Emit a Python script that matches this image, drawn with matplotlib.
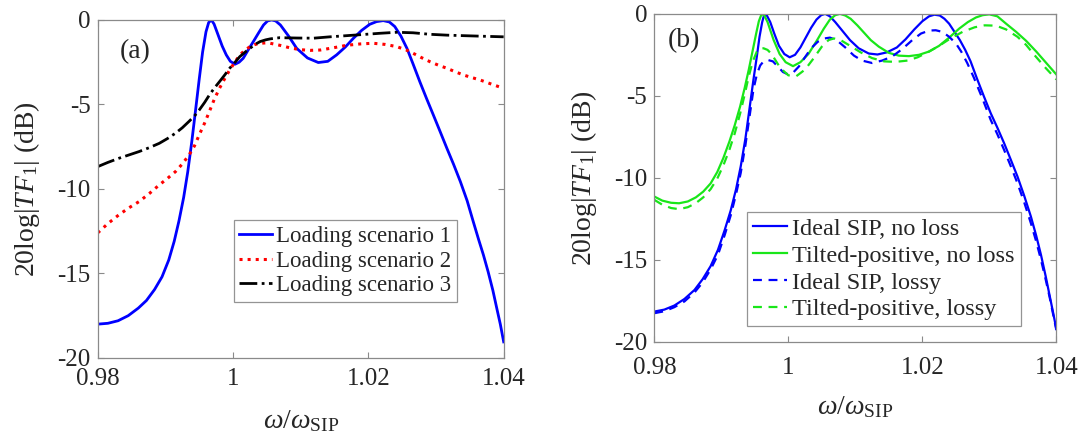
import numpy as np
import matplotlib.pyplot as plt

plt.rcParams['font.family'] = ['Liberation Serif', 'DejaVu Serif']
plt.rcParams['mathtext.fontset'] = 'custom'
plt.rcParams['mathtext.rm'] = 'Liberation Serif'
plt.rcParams['mathtext.it'] = 'Liberation Serif:italic'
plt.rcParams['axes.unicode_minus'] = False

# (a) loading scenarios
x_s1 = [0.9800, 0.9815, 0.9830, 0.9845, 0.9860, 0.9872, 0.9884, 0.9895, 0.9905, 0.9913,
        0.9920, 0.9927, 0.9933, 0.9939, 0.9945, 0.9950, 0.9955, 0.9960, 0.9964, 0.9968,
        0.9972, 0.9978, 0.9984, 0.9990, 0.9996, 1.0003, 1.0009, 1.0015, 1.0022, 1.0030,
        1.0038, 1.0045, 1.0051, 1.0057, 1.0063, 1.0070, 1.0082, 1.0094, 1.0110, 1.0126,
        1.0140, 1.0153, 1.0166, 1.0178, 1.0190, 1.0202, 1.0212, 1.0222, 1.0231, 1.0239,
        1.0248, 1.0257, 1.0266, 1.0276, 1.0286, 1.0296, 1.0306, 1.0316, 1.0326, 1.0336,
        1.0346, 1.0355, 1.0363, 1.0370, 1.0377, 1.0384, 1.0390, 1.0395, 1.0400]
y_s1 = [-18.0, -17.95, -17.8, -17.5, -17.05, -16.6, -15.95, -15.2, -14.2, -13.1,
        -11.9, -10.5, -9.0, -7.2, -5.2, -3.5, -1.9, -0.7, -0.15, 0.0,
        -0.25, -0.9, -1.55, -2.07, -2.45, -2.62, -2.5, -2.27, -1.8, -1.28,
        -0.75, -0.3, -0.06, 0.0, -0.06, -0.3, -0.95, -1.68, -2.25, -2.52,
        -2.45, -2.07, -1.6, -1.08, -0.62, -0.26, -0.1, -0.04, -0.12, -0.39,
        -0.95, -1.68, -2.6, -3.65, -4.65, -5.62, -6.6, -7.59, -8.55, -9.57,
        -10.7, -11.93, -13.0, -13.9, -14.9, -16.0, -17.1, -18.0, -19.05]

x_s2 = [0.9800, 0.9815, 0.9831, 0.9846, 0.9861, 0.9876, 0.9891, 0.9903, 0.9915, 0.9925,
        0.9935, 0.9943, 0.9950, 0.9958, 0.9965, 0.9972, 0.9980, 0.9988, 0.9995, 1.0003,
        1.0010, 1.0018, 1.0025, 1.0032, 1.0040, 1.0048, 1.0055, 1.0069, 1.0084, 1.0099,
        1.0114, 1.0129, 1.0148, 1.0168, 1.0188, 1.0207, 1.0225, 1.0242, 1.0256, 1.0266,
        1.0278, 1.0291, 1.0303, 1.0316, 1.0328, 1.0340, 1.0352, 1.0365, 1.0382, 1.0400]
y_s2 = [-12.6, -12.05, -11.54, -11.12, -10.75, -10.28, -9.76, -9.38, -8.97, -8.52,
        -7.99, -7.45, -6.8, -6.1, -5.42, -4.72, -4.04, -3.45, -2.96, -2.48,
        -2.07, -1.78, -1.58, -1.46, -1.38, -1.36, -1.38, -1.5, -1.65, -1.76,
        -1.8, -1.78, -1.65, -1.5, -1.42, -1.38, -1.45, -1.58, -1.78, -1.97,
        -2.22, -2.47, -2.67, -2.86, -3.06, -3.25, -3.4, -3.55, -3.8, -4.05]

x_s3 = [0.9800, 0.9815, 0.9831, 0.9846, 0.9861, 0.9876, 0.9891, 0.9903, 0.9915, 0.9925,
        0.9935, 0.9943, 0.9950, 0.9958, 0.9965, 0.9972, 0.9980, 0.9988, 0.9995, 1.0003,
        1.0010, 1.0018, 1.0025, 1.0032, 1.0040, 1.0048, 1.0055, 1.0069, 1.0094, 1.0119,
        1.0143, 1.0168, 1.0193, 1.0217, 1.0242, 1.0266, 1.0291, 1.0316, 1.0340, 1.0365,
        1.0400]
y_s3 = [-8.68, -8.43, -8.19, -7.99, -7.79, -7.56, -7.3, -7.02, -6.7, -6.38,
        -6.0, -5.68, -5.33, -4.88, -4.44, -4.05, -3.65, -3.24, -2.86, -2.5,
        -2.17, -1.9, -1.68, -1.46, -1.28, -1.18, -1.12, -1.05, -1.07, -1.08,
        -1.0, -0.93, -0.86, -0.79, -0.73, -0.76, -0.85, -0.9, -0.93, -0.96,
        -1.0]

# (b) ideal SIP vs tilted-positive, with and without loss
x_ideal = [0.9800, 0.9815, 0.9830, 0.9845, 0.9860, 0.9872, 0.9884, 0.9895, 0.9905, 0.9914,
           0.9922, 0.9929, 0.9936, 0.9942, 0.9948, 0.9953, 0.9957, 0.9961, 0.9964, 0.9968,
           0.9973, 0.9979, 0.9986, 0.9994, 1.0002, 1.0010, 1.0018, 1.0026, 1.0034, 1.0042,
           1.0049, 1.0055, 1.0062, 1.0070, 1.0080, 1.0092, 1.0105, 1.0120, 1.0133, 1.0147,
           1.0162, 1.0175, 1.0188, 1.0200, 1.0210, 1.0218, 1.0226, 1.0233, 1.0240, 1.0248,
           1.0256, 1.0264, 1.0272, 1.0282, 1.0292, 1.0302, 1.0312, 1.0322, 1.0332, 1.0342,
           1.0352, 1.0362, 1.0370, 1.0377, 1.0384, 1.0390, 1.0395, 1.0400]
y_ideal = [-18.17, -18.05, -17.8, -17.4, -16.85, -16.2, -15.4, -14.4, -13.2, -12.0,
           -10.7, -9.3, -7.6, -5.8, -4.0, -2.6, -1.4, -0.5, -0.05, -0.1,
           -0.5, -1.2, -1.95, -2.45, -2.65, -2.5, -2.05, -1.45, -0.85, -0.35,
           -0.08, 0.0, -0.15, -0.5, -1.0, -1.6, -2.1, -2.42, -2.48, -2.35,
           -2.05, -1.55, -0.95, -0.45, -0.15, -0.05, -0.1, -0.3, -0.6, -1.1,
           -1.6, -2.2, -2.9, -4.0, -5.05, -6.06, -6.95, -7.89, -8.9, -9.93,
           -11.1, -12.37, -13.55, -14.7, -16.0, -17.2, -18.2, -19.23]

x_tilt = [0.9800, 0.9812, 0.9825, 0.9837, 0.9850, 0.9862, 0.9873, 0.9884, 0.9894, 0.9903,
          0.9912, 0.9920, 0.9928, 0.9935, 0.9941, 0.9947, 0.9952, 0.9956, 0.9960, 0.9964,
          0.9969, 0.9978, 0.9987, 0.9996, 1.0007, 1.0018, 1.0030, 1.0043, 1.0053, 1.0062,
          1.0070, 1.0077, 1.0085, 1.0093, 1.0103, 1.0113, 1.0123, 1.0135, 1.0150, 1.0165,
          1.0180, 1.0195, 1.0210, 1.0225, 1.0240, 1.0255, 1.0268, 1.0280, 1.0290, 1.0300,
          1.0312, 1.0325, 1.0340, 1.0355, 1.0370, 1.0385, 1.0400]
y_tilt = [-11.15, -11.4, -11.53, -11.56, -11.45, -11.2, -10.85, -10.35, -9.65, -8.8,
          -7.8, -6.8, -5.66, -4.5, -3.4, -2.2, -1.2, -0.45, -0.02, -0.08,
          -0.5, -1.59, -2.45, -2.95, -3.19, -2.95, -2.45, -1.6, -0.9, -0.35,
          -0.08, 0.0, -0.1, -0.3, -0.7, -1.15, -1.6, -2.0, -2.38, -2.55,
          -2.58, -2.5, -2.3, -1.95, -1.45, -0.9, -0.5, -0.22, -0.08, -0.03,
          -0.15, -0.6, -1.1, -1.65, -2.3, -3.0, -3.7]

x_ideal_loss = [0.9800, 0.9815, 0.9830, 0.9845, 0.9860, 0.9872, 0.9884, 0.9895, 0.9905, 0.9914,
                0.9922, 0.9929, 0.9936, 0.9942, 0.9948, 0.9953, 0.9958, 0.9963, 0.9970, 0.9977,
                0.9984, 0.9992, 1.0000, 1.0008, 1.0016, 1.0024, 1.0034, 1.0044, 1.0054, 1.0062,
                1.0072, 1.0085, 1.0098, 1.0110, 1.0125, 1.0140, 1.0155, 1.0170, 1.0185, 1.0198,
                1.0210, 1.0220, 1.0230, 1.0240, 1.0250, 1.0258, 1.0267, 1.0277, 1.0290, 1.0302,
                1.0312, 1.0322, 1.0332, 1.0342, 1.0352, 1.0362, 1.0370, 1.0377, 1.0384, 1.0390,
                1.0395, 1.0400]
y_ideal_loss = [-18.27, -18.15, -17.9, -17.55, -17.0, -16.4, -15.6, -14.7, -13.5, -12.3,
                -11.0, -9.7, -8.0, -6.3, -4.6, -3.7, -3.15, -2.9, -2.82, -2.9,
                -3.2, -3.55, -3.7, -3.55, -3.2, -2.7, -2.1, -1.7, -1.5, -1.45,
                -1.6, -2.05, -2.55, -2.85, -3.0, -2.85, -2.6, -2.15, -1.6, -1.2,
                -1.02, -1.0, -1.1, -1.4, -1.8, -2.3, -3.0, -3.9, -5.2, -6.47,
                -7.35, -8.3, -9.3, -10.34, -11.5, -12.78, -13.9, -15.0, -16.2, -17.3,
                -18.3, -19.3]

x_tilt_loss = [0.9800, 0.9812, 0.9825, 0.9837, 0.9850, 0.9862, 0.9873, 0.9884, 0.9894, 0.9903,
               0.9912, 0.9920, 0.9928, 0.9935, 0.9941, 0.9947, 0.9953, 0.9958, 0.9963, 0.9969,
               0.9975, 0.9988, 1.0000, 1.0012, 1.0025, 1.0038, 1.0050, 1.0060, 1.0068, 1.0078,
               1.0093, 1.0108, 1.0125, 1.0143, 1.0160, 1.0178, 1.0193, 1.0210, 1.0225, 1.0242,
               1.0260, 1.0278, 1.0293, 1.0310, 1.0325, 1.0342, 1.0355, 1.0367, 1.0384, 1.0400]
y_tilt_loss = [-11.35, -11.65, -11.85, -11.92, -11.8, -11.55, -11.2, -10.7, -10.05, -9.25,
               -8.3, -7.3, -6.1, -4.9, -3.8, -2.9, -2.3, -2.12, -2.1, -2.2,
               -2.45, -3.3, -3.75, -3.8, -3.4, -2.7, -2.0, -1.6, -1.5, -1.6,
               -1.97, -2.35, -2.7, -2.9, -2.93, -2.85, -2.65, -2.3, -1.95, -1.5,
               -1.1, -0.82, -0.7, -0.72, -0.95, -1.4, -1.9, -2.5, -3.3, -4.0]

xticks = [0.98, 1.0, 1.02, 1.04]
xtick_labels = ['0.98', '1', '1.02', '1.04']
yticks = [0, -5, -10, -15, -20]

ylab = r'20log$|TF_{1}|$ (dB)'
xlab = r'$\omega/\omega_{\mathrm{SIP}}$'

frame_col = '#8a8a8a'
text_col = '#262626'


def style_axes(ax, xpad, xlabpad):
    ax.set_xlim(0.98, 1.04)
    ax.set_ylim(-20, 0)
    ax.set_xticks(xticks)
    ax.set_xticklabels(xtick_labels)
    ax.set_yticks(yticks)
    ax.set_yticklabels([str(v) for v in yticks])
    ax.tick_params(direction='in', length=4, width=0.8, color=frame_col,
                   top=True, right=True, labelsize=18, labelcolor=text_col)
    ax.tick_params(axis='x', pad=xpad)
    ax.tick_params(axis='y', pad=5)
    for s in ax.spines.values():
        s.set_color(frame_col)
        s.set_linewidth(0.9)
    ax.set_ylabel(ylab, fontsize=20, color=text_col, labelpad=11)
    ax.set_xlabel(xlab, fontsize=20, color=text_col, labelpad=xlabpad)


def style_legend(leg):
    leg.get_frame().set_linewidth(0.9)
    for t in leg.get_texts():
        t.set_color(text_col)


fig = plt.figure(figsize=(10.86, 4.43), dpi=100)
ax1 = fig.add_axes([0.090, 0.192, 0.3738, 0.763])
ax2 = fig.add_axes([0.6025, 0.229, 0.3702, 0.7397])

ax1.plot(x_s1, y_s1, '-', color='#0000ff', lw=2.0, label='Loading scenario 1')
ax1.plot(x_s2, y_s2, ':', color='#ff0000', lw=2.2, label='Loading scenario 2')
ax1.plot(x_s3, y_s3, '-.', color='black', lw=2.0, label='Loading scenario 3')
style_axes(ax1, 7, 13)
ax1.text(0.055, 0.905, '(a)', transform=ax1.transAxes, fontsize=20,
         va='center', ha='left', color=text_col)
leg1 = ax1.legend(loc='lower right', bbox_to_anchor=(0.885, 0.166), fontsize=16.5,
                  frameon=True, fancybox=False, edgecolor='#7a7a7a',
                  handlelength=1.4, handletextpad=0.2, labelspacing=0.15,
                  borderpad=0.25, borderaxespad=0)
style_legend(leg1)

green = '#19e619'
ax2.plot(x_ideal, y_ideal, '-', color='#0000ff', lw=1.6, label='Ideal SIP, no loss')
ax2.plot(x_tilt, y_tilt, '-', color=green, lw=1.6, label='Tilted-positive, no loss')
ax2.plot(x_ideal_loss, y_ideal_loss, '--', color='#0000ff', lw=1.6, dashes=(4, 3),
         label='Ideal SIP, lossy')
ax2.plot(x_tilt_loss, y_tilt_loss, '--', color=green, lw=1.6, dashes=(4, 3),
         label='Tilted-positive, lossy')
style_axes(ax2, 11, 11)
ax2.text(0.034, 0.919, '(b)', transform=ax2.transAxes, fontsize=20,
         va='center', ha='left', color=text_col)
leg2 = ax2.legend(loc='lower right', bbox_to_anchor=(0.911, 0.046), fontsize=17.5,
                  frameon=True, fancybox=False, edgecolor='#7a7a7a',
                  handlelength=1.4, handletextpad=0.2, labelspacing=0.2,
                  borderpad=0.25, borderaxespad=0)
style_legend(leg2)

fig.savefig('out.png', dpi=100)
